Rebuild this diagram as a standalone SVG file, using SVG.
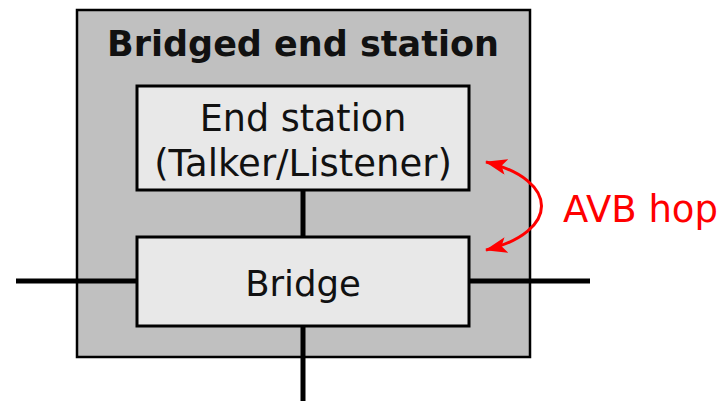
<svg xmlns="http://www.w3.org/2000/svg" width="722" height="401" viewBox="0 0 722 401">
  <style>
    .box { fill: #e8e8e8; stroke: #000; stroke-width: 3; }
    .wire { stroke: #000; stroke-width: 5; fill: none; }
    .lbl { font-family: "DejaVu Sans", Verdana, sans-serif; fill: #111; text-anchor: middle; }
  </style>
  <defs>
    <marker id="arrow" viewBox="0 0 22 16" refX="21" refY="8" markerWidth="22" markerHeight="16" markerUnits="userSpaceOnUse" orient="auto-start-reverse">
      <path d="M0,0 L22,8 L0,16 L5,8 Z" fill="#ff0000"/>
    </marker>
  </defs>
  <rect width="722" height="401" fill="#fff"/>

  <g id="bridged-end-station">
    <rect x="77" y="10" width="453" height="347" fill="#c0c0c0" stroke="#000" stroke-width="2.5"/>
    <text class="lbl" x="303" y="56" font-size="35" font-weight="bold">Bridged end station</text>
  </g>

  <g id="connectors">
    <line class="wire" x1="16" y1="281" x2="136" y2="281"/>
    <line class="wire" x1="470" y1="281" x2="590" y2="281"/>
    <line class="wire" x1="303" y1="191" x2="303" y2="237"/>
    <line class="wire" x1="303" y1="327" x2="303" y2="401"/>
  </g>

  <g id="end-station">
    <rect class="box" x="137" y="86" width="332" height="104"/>
    <text class="lbl" x="303" y="131" font-size="36.5">End station</text>
    <text class="lbl" x="303" y="176" font-size="37">(Talker/Listener)</text>
  </g>

  <g id="bridge">
    <rect class="box" x="137" y="237" width="332" height="89"/>
    <text class="lbl" x="303" y="296" font-size="35.5">Bridge</text>
  </g>

  <g id="avb-hop">
    <path d="M486,162 C560,180 560,232 486,250" fill="none" stroke="#ff0000" stroke-width="3" marker-start="url(#arrow)" marker-end="url(#arrow)"/>
    <text x="563" y="222" font-family="'DejaVu Sans', Verdana, sans-serif" font-size="37" fill="#ff0000">AVB hop</text>
  </g>
</svg>
